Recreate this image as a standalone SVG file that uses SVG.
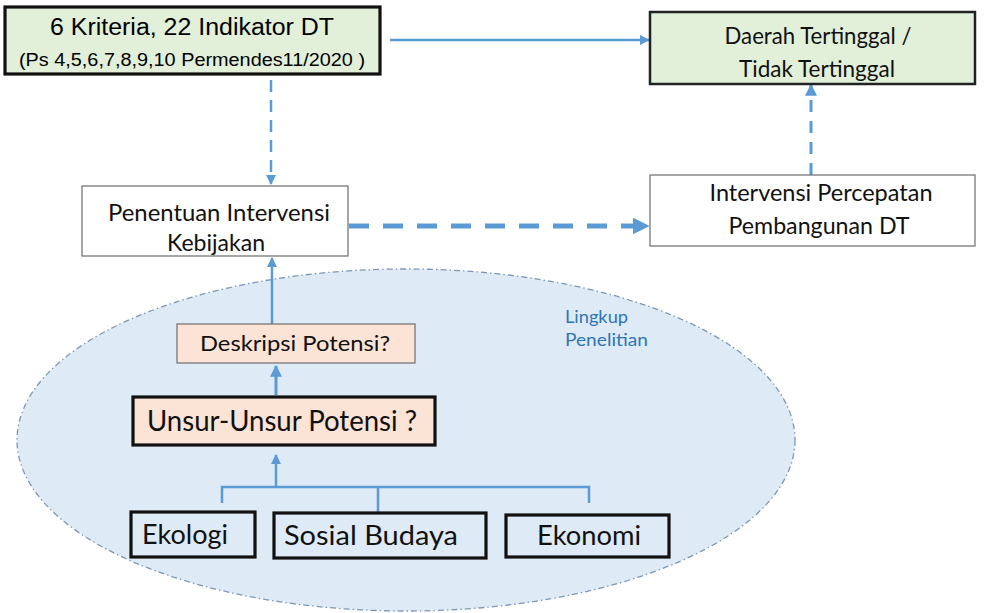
<svg xmlns="http://www.w3.org/2000/svg" width="987" height="613" viewBox="0 0 987 613">
<defs>
<marker id="ah" viewBox="0 0 10 10" refX="9" refY="5" markerWidth="4" markerHeight="4" orient="auto" markerUnits="strokeWidth"><path d="M0,0 L10,5 L0,10 z" fill="#5b9bd5"/></marker>
<marker id="ahs" viewBox="0 0 10 10" refX="9" refY="5" markerWidth="3.4" markerHeight="3.4" orient="auto" markerUnits="strokeWidth"><path d="M0,0 L10,5 L0,10 z" fill="#5b9bd5"/></marker>
</defs>
<style>
.a{font-family:"Liberation Sans",Arial,sans-serif;fill:#000}
.c{font-family:Lato,"Open Sans",sans-serif;fill:#111}
.b{fill:#2e75b6}
.ln{fill:none;stroke:#5b9bd5}
.thick{stroke:#111;stroke-width:3.2}
</style>
<rect width="987" height="613" fill="#fff"/>
<g id="scope">
<ellipse cx="406" cy="440" rx="389" ry="171" fill="#deeaf6" stroke="#7d97b3" stroke-width="1.3" stroke-dasharray="6,3,1.5,3"/>
<text class="c b" x="565" y="323" font-size="17" textLength="63" lengthAdjust="spacingAndGlyphs">Lingkup</text>
<text class="c b" x="565" y="346" font-size="17" textLength="83" lengthAdjust="spacingAndGlyphs">Penelitian</text>
</g>
<g id="connectors">
<line class="ln" x1="390" y1="40" x2="649" y2="40" stroke-width="2.5" marker-end="url(#ah)"/>
<line class="ln" x1="271" y1="80" x2="271" y2="184" stroke-width="2.5" stroke-dasharray="12,8" marker-end="url(#ah)"/>
<line class="ln" x1="349" y1="226" x2="648" y2="226" stroke-width="5" stroke-dasharray="20,14" marker-end="url(#ahs)"/>
<line class="ln" x1="811" y1="175" x2="811" y2="85" stroke-width="3" stroke-dasharray="12,9" marker-end="url(#ah)"/>
<line class="ln" x1="272" y1="324" x2="272" y2="258" stroke-width="2.5" marker-end="url(#ah)"/>
<line class="ln" x1="276" y1="395" x2="276" y2="366" stroke-width="3" marker-end="url(#ah)"/>
<line class="ln" x1="276" y1="486" x2="276" y2="455" stroke-width="2.5" marker-end="url(#ah)"/>
<path class="ln" d="M222,503 V487 H589 V503 M378,487 V513" stroke-width="2.5"/>
</g>
<g id="kriteria">
<rect x="5" y="7" width="375" height="67" fill="#e2efd9" class="thick"/>
<text class="a" x="192" y="35" font-size="23.5" text-anchor="middle" textLength="284" lengthAdjust="spacingAndGlyphs">6 Kriteria, 22 Indikator DT</text>
<text class="a" x="192" y="66" font-size="18" text-anchor="middle" textLength="346" lengthAdjust="spacingAndGlyphs">(Ps 4,5,6,7,8,9,10 Permendes11/2020 )</text>
</g>
<g id="daerah">
<rect x="650" y="12" width="325" height="72" fill="#e2efd9" stroke="#222" stroke-width="2.5"/>
<text class="c" x="818" y="44" font-size="24" text-anchor="middle" textLength="187" lengthAdjust="spacingAndGlyphs">Daerah Tertinggal /</text>
<text class="c" x="817" y="77" font-size="24" text-anchor="middle" textLength="156" lengthAdjust="spacingAndGlyphs">Tidak Tertinggal</text>
</g>
<g id="penentuan">
<rect x="82" y="186" width="266" height="70" fill="#fff" stroke="#777" stroke-width="1.3"/>
<text class="c" x="219" y="221" font-size="23" text-anchor="middle" textLength="222" lengthAdjust="spacingAndGlyphs">Penentuan Intervensi</text>
<text class="c" x="216" y="251" font-size="23" text-anchor="middle" textLength="98" lengthAdjust="spacingAndGlyphs">Kebijakan</text>
</g>
<g id="intervensi">
<rect x="650" y="175" width="325" height="71" fill="#fff" stroke="#777" stroke-width="1.3"/>
<text class="c" x="821" y="201" font-size="23" text-anchor="middle" textLength="223" lengthAdjust="spacingAndGlyphs">Intervensi Percepatan</text>
<text class="c" x="819" y="234" font-size="23" text-anchor="middle" textLength="181" lengthAdjust="spacingAndGlyphs">Pembangunan DT</text>
</g>
<g id="deskripsi">
<rect x="177" y="324" width="238" height="39" fill="#fbe4d5" stroke="#777" stroke-width="1.3"/>
<text class="c" x="295" y="351" font-size="22" text-anchor="middle" textLength="190" lengthAdjust="spacingAndGlyphs">Deskripsi Potensi?</text>
</g>
<g id="unsur">
<rect x="133" y="397" width="302" height="48" fill="#fbe4d5" class="thick"/>
<text class="c" x="282" y="431" font-size="29" text-anchor="middle" textLength="270" lengthAdjust="spacingAndGlyphs">Unsur-Unsur Potensi ?</text>
</g>
<g id="ekologi">
<rect x="131" y="512" width="124" height="45" fill="none" class="thick"/>
<text class="c" x="185" y="544" font-size="27" text-anchor="middle" textLength="86" lengthAdjust="spacingAndGlyphs">Ekologi</text>
</g>
<g id="sosial">
<rect x="274" y="513" width="212" height="45" fill="none" class="thick"/>
<text class="c" x="371" y="545" font-size="27" text-anchor="middle" textLength="174" lengthAdjust="spacingAndGlyphs">Sosial  Budaya</text>
</g>
<g id="ekonomi">
<rect x="506" y="515" width="163" height="42" fill="none" class="thick"/>
<text class="c" x="589" y="545" font-size="27" text-anchor="middle" textLength="104" lengthAdjust="spacingAndGlyphs">Ekonomi</text>
</g>
</svg>
